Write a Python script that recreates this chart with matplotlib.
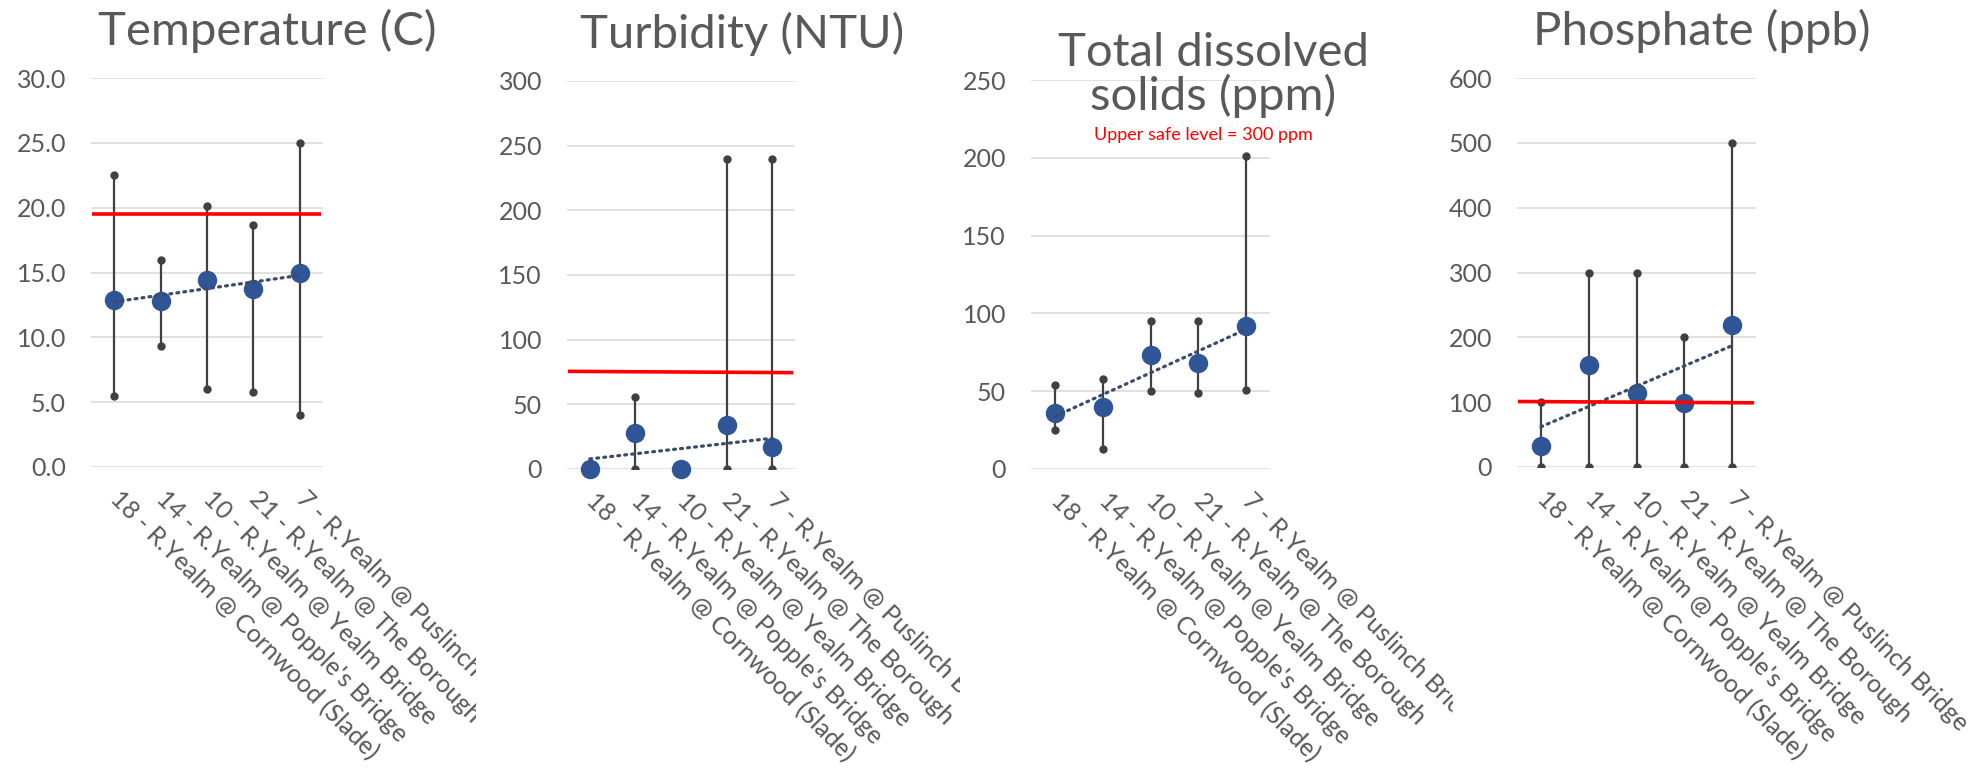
import numpy as np
import matplotlib
matplotlib.use("Agg")
import matplotlib.pyplot as plt
from matplotlib.transforms import Bbox, TransformedBbox

plt.rcParams['font.family'] = ['Lato', 'DejaVu Sans']

sites = ["18 - R.Yealm @ Cornwood (Slade)",
         "14 - R.Yealm @ Popple's Bridge",
         "10 - R.Yealm @ Yealm Bridge",
         "21 - R.Yealm @ The Borough",
         "7 - R.Yealm @ Puslinch Bridge"]

temp_mean = [12.9, 12.8, 14.4, 13.7, 15.0]
temp_max = [22.5, 16.0, 20.1, 18.7, 25.0]
temp_min = [5.5, 9.3, 6.0, 5.8, 4.0]
temp_limit = [19.5, 19.5]

turb_mean = [0, 28, 0, 34, 17]
turb_max = [0, 56, 0, 240, 240]
turb_min = [0, 0, 0, 0, 0]
turb_limit = [75.5, 74.5]

tds_mean = [36, 40, 73, 68, 92]
tds_max = [54, 58, 95, 95, 201]
tds_min = [25, 13, 50, 49, 51]

phos_mean = [33, 158, 114, 99, 219]
phos_max = [100, 300, 300, 200, 500]
phos_min = [0, 0, 0, 0, 0]
phos_limit = [101, 99]

W, H = 1975, 769
fig = plt.figure(figsize=(W / 100, H / 100), dpi=100)

grey = '#595959'
blue = '#2F5597'
bar_col = '#404040'
trend_col = '#3B4B68'

# pixel boxes: left, top, right, bottom / title pos / label clip edge
panels = [
    dict(title="Temperature (C)", mean=temp_mean, hi=temp_max, lo=temp_min,
         limit=temp_limit, top=30, step=5, fmt="{:.1f}",
         box=(91, 78, 323, 467), tpos=(267, 45), clip=(0, 476)),
    dict(title="Turbidity (NTU)", mean=turb_mean, hi=turb_max, lo=turb_min,
         limit=turb_limit, top=300, step=50, fmt="{:.0f}",
         box=(567, 81, 795, 469), tpos=(742, 48), clip=(490, 960)),
    dict(title="Total dissolved\nsolids (ppm)", mean=tds_mean, hi=tds_max, lo=tds_min,
         limit=None, top=250, step=50, fmt="{:.0f}",
         box=(1031, 80, 1270, 469), tpos=(1213, 110), clip=(980, 1453)),
    dict(title="Phosphate (ppb)", mean=phos_mean, hi=phos_max, lo=phos_min,
         limit=phos_limit, top=600, step=100, fmt="{:.0f}",
         box=(1517, 78, 1756, 467), tpos=(1702, 45), clip=(1470, 1975)),
]

for p in panels:
    l, t, r, b = p['box']
    ax = fig.add_axes([l / W, 1 - b / H, (r - l) / W, (b - t) / H])
    x = np.arange(len(sites))

    ax.vlines(x, p['lo'], p['hi'], color=bar_col, lw=1.6, zorder=2)
    ax.plot(x, p['hi'], 'o', color=bar_col, ms=5, zorder=2)
    ax.plot(x, p['lo'], 'o', color=bar_col, ms=5, zorder=2)
    ax.plot(x, p['mean'], 'o', color=blue, ms=13, zorder=3, clip_on=False)

    # linear trendline through the means
    k, c = np.polyfit(x, p['mean'], 1)
    ax.plot(x, k * x + c, color=trend_col, lw=2.3, ls=(0, (0.6, 1.6)),
            dash_capstyle='round', zorder=4)

    if p['limit'] is not None:
        ax.plot([-0.48, 4.46], p['limit'], color='#FF0000', lw=2.6, zorder=5,
                solid_capstyle='butt')

    ax.set_xlim(-0.5, 4.5)
    ax.set_ylim(0, p['top'])
    yt = np.arange(0, p['top'] + 1e-9, p['step'])
    ax.set_yticks(yt)
    ax.set_yticklabels([p['fmt'].format(v) for v in yt])
    ax.yaxis.grid(True, color='#D9D9D9', lw=1.1)
    ax.set_axisbelow(True)
    for s in ax.spines.values():
        s.set_visible(False)
    ax.tick_params(axis='y', length=0, pad=18, labelsize=18, labelcolor=grey)
    ax.tick_params(axis='x', length=0, pad=20, labelsize=18, labelcolor=grey)

    ax.set_xticks(x)
    ax.set_xticklabels(sites, rotation=-45, ha='left', va='center',
                       rotation_mode='anchor')
    cb = TransformedBbox(Bbox([[p['clip'][0] / W, 0], [p['clip'][1] / W, 1]]),
                         fig.transFigure)
    for lbl in ax.get_xticklabels():
        lbl.set_clip_box(cb)
        lbl.set_clip_on(True)

    fig.text(p['tpos'][0] / W, 1 - p['tpos'][1] / H, p['title'], ha='center',
             va='baseline', fontsize=34, color=grey, linespacing=1.0)

fig.text(1203 / W, 1 - 135 / H, "Upper safe level = 300 ppm", color='#FF0000',
         fontsize=13, ha='center', va='center')

fig.savefig("out.png", dpi=100)
